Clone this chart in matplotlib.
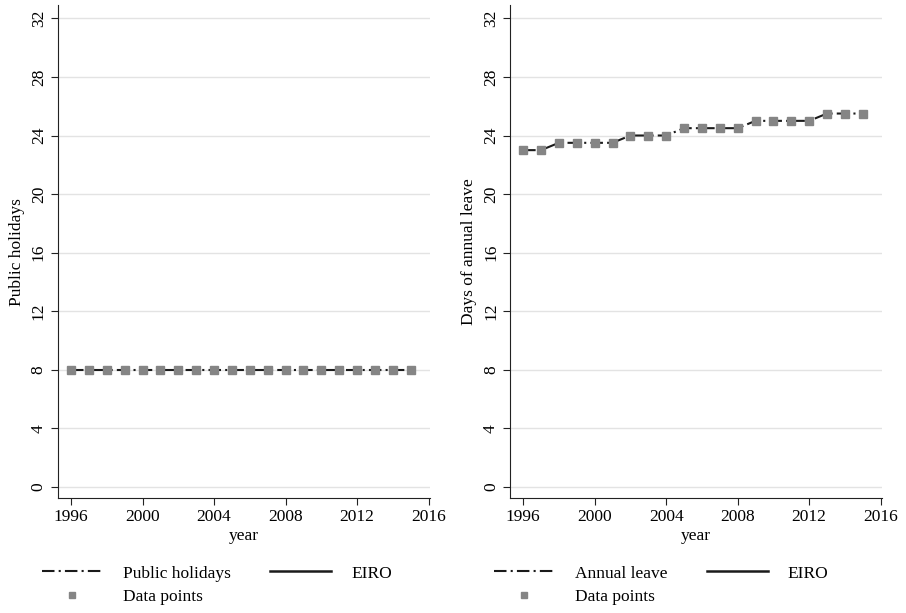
import matplotlib
matplotlib.use('Agg')

import numpy as np
import matplotlib.pyplot as plt
from matplotlib.lines import Line2D

years = np.arange(1996, 2016)
public_holidays = [8] * 20
annual_leave = [23, 23, 23.5, 23.5, 23.5, 23.5, 24, 24, 24, 24.5,
                24.5, 24.5, 24.5, 25, 25, 25, 25, 25.5, 25.5, 25.5]
eiro_holidays = [np.nan] * 20
eiro_leave = [np.nan] * 20

xticks = [1996, 2000, 2004, 2008, 2012, 2016]
yticks = [0, 4, 8, 12, 16, 20, 24, 28, 32]

plt.rcParams['font.family'] = ['Liberation Serif', 'DejaVu Serif']
plt.rcParams['font.size'] = 12.5

fig = plt.figure(figsize=(9.06, 6.13), dpi=100)

panels = [
    (0.064, public_holidays, eiro_holidays, 'Public holidays', 'Public holidays'),
    (0.563, annual_leave, eiro_leave, 'Annual leave', 'Days of annual leave'),
]
gray = '#858585'
dashdot = (0, (6, 2, 1, 2))

for left, vals, eiro, name, ylab in panels:
    ax = fig.add_axes([left, 0.1876, 0.411, 0.804])
    ax.plot(years, vals, color='#1a1a1a', lw=1.5, linestyle=dashdot, zorder=3)
    ax.plot(years, eiro, color='#1a1a1a', lw=1.8, zorder=3)
    ax.plot(years, vals, 's', color=gray, ms=5.5, zorder=4)

    ax.set_xlim(1995.27, 2016.1)
    ax.set_ylim(-0.75, 32.9)
    ax.set_xticks(xticks)
    ax.set_yticks(yticks)
    for t in ax.get_yticklabels():
        t.set_rotation(90)
        t.set_va('center')
    ax.grid(axis='y', color='#e3e3e3', lw=1)
    ax.set_axisbelow(True)
    for s in ['top', 'right']:
        ax.spines[s].set_visible(False)
    ax.spines['left'].set_color('#222222')
    ax.spines['bottom'].set_color('#222222')
    ax.tick_params(direction='out', length=5, color='#222222', pad=3)
    ax.set_xlabel('year', labelpad=2)
    ax.set_ylabel(ylab, labelpad=4)

    handles = [
        Line2D([], [], color='#1a1a1a', lw=1.5, linestyle=dashdot),
        Line2D([], [], marker='s', color=gray, ms=5, linestyle='none'),
        Line2D([], [], color='#1a1a1a', lw=1.8),
    ]
    labels = [name, 'Data points', 'EIRO']
    ax.legend(handles, labels, ncol=2, frameon=False, loc='upper left',
              bbox_to_anchor=(-0.085, -0.105), handlelength=3.5,
              columnspacing=2.3, handletextpad=1.15, labelspacing=0.45,
              fontsize=12.5)

plt.savefig('out.png', dpi=100)
